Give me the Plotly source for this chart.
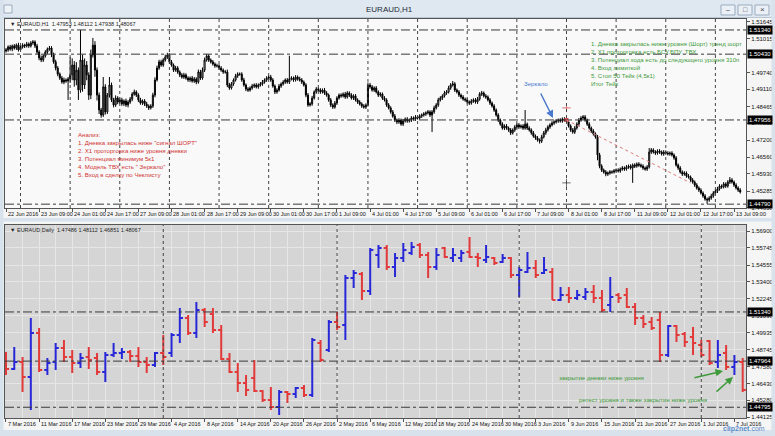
import pandas as pd
import plotly.graph_objects as go

W, H = 775, 436
FONT = "Liberation Sans, Arial, sans-serif"
NARROW = "Liberation Sans Narrow, Arial Narrow, Liberation Sans, sans-serif"

# ---------------- H1 chart data (prices as pips above 1.4400) ----------------
H1_BASE = 1.44
h1_first_open = 655
h1_close = [
    659,670,662,674,666,677,659,670,677,674,681,674,685,689,674,651,629,621,636,651,
    662,666,640,614,591,568,553,538,546,542,550,565,602,546,583,508,621,527,602,565,
    489,640,677,583,489,433,414,520,426,489,527,471,452,478,463,471,456,467,452,463,
    474,493,501,489,471,459,467,456,448,441,448,489,546,591,614,602,621,632,640,614,
    602,583,591,576,565,557,565,553,546,553,542,550,538,576,553,583,621,636,621,614,
    606,599,599,591,583,576,576,527,516,531,546,561,568,568,546,527,512,508,516,523,
    527,520,527,531,538,546,553,557,546,523,501,508,523,531,538,546,538,550,553,546,
    557,550,546,538,527,489,452,456,478,501,512,508,501,508,497,489,471,452,444,459,
    478,489,486,493,482,497,489,478,486,471,463,456,448,444,452,527,520,508,516,501,
    489,493,478,471,452,441,426,410,395,388,395,380,392,399,392,395,403,399,407,403,
    410,414,418,422,426,414,426,441,452,471,478,486,497,501,516,527,531,508,501,489,
    482,474,471,463,459,467,471,463,474,493,497,486,482,471,459,448,433,414,395,380,
    365,373,365,358,347,358,369,377,369,373,365,380,365,358,347,335,328,320,316,332,
    347,358,369,377,384,388,392,395,392,399,395,388,373,358,350,365,380,395,403,407,
    395,380,365,354,343,332,264,222,207,200,192,196,200,200,204,207,204,211,215,211,
    219,222,215,226,222,230,226,222,215,211,219,275,283,275,271,279,275,268,275,271,
    268,271,264,253,226,215,200,192,196,185,181,170,162,151,140,132,121,110,98,95,
    102,110,121,128,136,147,144,155,147,162,170,162,151,140,132,125,
]
h1_upper_wick = [
    7,6,8,5,7,6,9,6,7,5,8,6,7,7,6,8,7,9,6,7,
    6,8,7,9,8,7,6,8,9,6,7,67,25,15,30,10,113,20,25,15,
    10,20,27,15,10,10,8,37,10,8,30,9,8,10,7,9,8,6,9,7,
    8,7,9,6,7,8,6,7,8,6,7,9,10,9,8,8,7,9,8,6,
    7,6,8,7,6,7,8,6,7,6,8,7,6,9,8,10,9,8,7,6,
    7,6,8,6,7,6,7,9,8,7,6,8,7,6,7,8,6,7,6,8,
    6,7,6,7,8,6,7,6,8,7,6,7,8,6,7,6,7,87,7,6,
    7,6,8,7,6,7,8,7,8,6,7,6,7,6,8,7,6,7,6,8,
    7,6,7,6,8,7,6,7,6,7,6,7,6,7,6,9,8,7,6,7,
    6,7,6,7,6,7,6,7,8,6,7,6,7,6,7,6,7,6,7,6,
    7,6,7,6,7,6,7,8,7,8,7,6,8,7,8,7,11,7,6,7,
    6,7,6,7,6,7,6,7,8,7,8,6,7,6,7,6,7,6,7,6,
    7,6,7,6,7,6,7,6,7,6,7,53,6,7,6,7,6,7,6,8,
    7,8,7,6,7,6,7,6,7,6,7,6,7,6,7,8,7,8,7,7,
    7,6,7,6,7,6,7,8,7,6,7,6,7,6,7,6,7,6,7,6,
    7,6,7,6,7,6,7,6,7,6,7,15,7,6,7,6,7,6,7,6,
    7,6,7,6,7,6,7,6,7,6,7,6,7,6,7,6,7,6,7,6,
    7,8,7,6,8,7,6,7,6,7,11,7,6,7,6,7,
]
h1_lower_wick = [
    6,7,6,8,6,7,6,7,6,8,6,7,6,7,8,7,9,8,7,6,
    7,6,8,7,9,8,7,6,8,7,71,15,20,25,20,37,10,25,15,20,
    18,15,10,25,20,15,10,7,10,8,9,8,9,7,8,6,7,8,7,9,
    7,8,6,7,8,6,7,8,7,8,6,7,8,6,7,6,7,6,7,8,
    6,7,6,7,8,6,7,6,7,8,6,7,8,6,7,6,7,6,7,6,
    6,7,6,7,6,7,6,8,7,6,7,6,7,6,7,6,8,7,6,7,
    7,6,7,6,7,6,7,6,7,6,8,7,6,7,6,7,6,7,6,7,
    6,7,6,7,6,8,7,6,7,6,7,6,7,6,7,6,7,8,7,6,
    7,6,7,6,7,6,7,6,7,6,7,6,7,6,7,6,7,6,7,6,
    7,6,7,6,7,6,7,6,7,8,7,6,7,6,7,6,7,6,7,6,
    6,7,6,7,6,7,64,7,6,7,6,7,6,7,6,7,6,7,6,7,
    7,6,7,6,7,6,7,6,7,6,7,6,7,6,7,6,7,6,7,6,
    6,7,6,7,8,6,7,6,7,6,7,6,7,6,7,6,7,6,9,7,
    6,7,6,7,6,7,6,7,6,7,6,7,6,7,6,7,6,7,6,7,
    6,7,6,7,6,7,20,8,7,6,8,7,6,7,6,7,6,7,6,7,
    6,7,6,56,7,6,7,6,7,6,7,6,7,6,7,6,7,6,7,6,
    6,7,6,7,6,7,6,7,6,7,6,7,6,7,6,7,6,7,6,15,
    7,6,7,6,7,6,7,6,7,6,7,6,7,6,7,6,
]
h1_start = "2016-06-22 17:00"
h1_tick_labels = [
    "22 Jun 2016", "23 Jun 09:00", "24 Jun 01:00", "24 Jun 17:00", "27 Jun 09:00",
    "28 Jun 01:00", "28 Jun 17:00", "29 Jun 09:00", "30 Jun 01:00", "30 Jun 17:00",
    "1 Jul 09:00", "4 Jul 01:00", "4 Jul 17:00", "5 Jul 09:00", "6 Jul 01:00",
    "6 Jul 17:00", "7 Jul 09:00", "8 Jul 01:00", "8 Jul 17:00", "11 Jul 09:00",
    "12 Jul 01:00", "12 Jul 17:00", "13 Jul 09:00",
]
h1_label_step = 16
h1_price_ticks = [1.51645, 1.51015, 1.49740, 1.49110, 1.48465, 1.47835,
                  1.47200, 1.46560, 1.45930, 1.45285, 1.44650]
h1_levels = [1.51340, 1.50430, 1.47956, 1.44790]
h1_trend_x = [271, 331]
h1_trend_y = [1.47955, 1.45590]
h1_mark_x = [271, 271]
h1_mark_y = [1.48410, 1.45590]
h1_header = "\u25BC EURAUD,H1  1.47953 1.48112 1.47938 1.48067"

# ---------------- Daily chart data ----------------
d_start = "2016-03-07"
d_open = [
    1.4852,1.4742,1.4790,1.4687,1.4989,1.4735,1.4790,1.4886,1.4825,1.4783,
    1.4825,1.4818,1.4722,1.4838,1.4852,1.4859,1.4831,1.4790,1.4770,1.4852,
    1.4852,1.4976,1.5092,1.4989,1.5147,1.5120,1.5010,1.4811,1.4722,1.4646,
    1.4680,1.4591,1.4529,1.4481,1.4584,1.4571,1.4612,1.4564,1.4921,1.4873,
    1.5065,1.5044,1.5367,1.5395,1.5278,1.5525,1.5573,1.5443,1.5505,1.5539,
    1.5594,1.5525,1.5443,1.5573,1.5505,1.5505,1.5546,1.5511,1.5491,1.5505,
    1.5477,1.5505,1.5388,1.5408,1.5436,1.5402,1.5408,1.5216,1.5250,1.5230,
    1.5237,1.5271,1.5230,1.5182,1.5250,1.5250,1.5168,1.5092,1.5065,1.5079,
    1.4838,1.5037,1.4983,1.4962,1.4907,1.4934,1.4790,1.4852,1.4756,1.4790,
]
d_high = [
    1.4859,1.4893,1.4825,1.5092,1.5024,1.4818,1.4921,1.4941,1.4873,1.4852,
    1.4893,1.4852,1.4859,1.4921,1.4886,1.4873,1.4893,1.4825,1.4859,1.4976,
    1.4989,1.5161,1.5113,1.5202,1.5161,1.5161,1.5044,1.4852,1.4783,1.4701,
    1.4804,1.4598,1.4619,1.4598,1.4591,1.4619,1.4633,1.4955,1.4941,1.5079,
    1.5134,1.5388,1.5422,1.5408,1.5573,1.5594,1.5594,1.5539,1.5608,1.5614,
    1.5608,1.5546,1.5573,1.5580,1.5573,1.5560,1.5649,1.5539,1.5594,1.5511,
    1.5532,1.5511,1.5443,1.5546,1.5491,1.5511,1.5436,1.5305,1.5305,1.5285,
    1.5299,1.5319,1.5285,1.5374,1.5264,1.5299,1.5195,1.5113,1.5099,1.5134,
    1.5044,1.5044,1.4996,1.5031,1.4941,1.4941,1.4941,1.4907,1.4838,1.4818,
]
d_low = [
    1.4701,1.4735,1.4584,1.4461,1.4722,1.4701,1.4735,1.4790,1.4715,1.4749,
    1.4742,1.4701,1.4653,1.4825,1.4811,1.4790,1.4756,1.4715,1.4756,1.4770,
    1.4825,1.4921,1.4976,1.4955,1.5031,1.4989,1.4804,1.4715,1.4584,1.4557,
    1.4584,1.4516,1.4461,1.4426,1.4509,1.4543,1.4550,1.4550,1.4790,1.4859,
    1.5010,1.4941,1.5299,1.5216,1.5250,1.5436,1.5422,1.5374,1.5477,1.5525,
    1.5505,1.5367,1.5422,1.5505,1.5477,1.5477,1.5505,1.5443,1.5470,1.5456,
    1.5470,1.5367,1.5237,1.5402,1.5367,1.5395,1.5216,1.5209,1.5195,1.5216,
    1.5216,1.5195,1.5134,1.5134,1.5195,1.5161,1.5044,1.5024,1.5010,1.4790,
    1.4825,1.4928,1.4893,1.4838,1.4825,1.4770,1.4749,1.4735,1.4701,1.4584,
]
d_close = [
    1.4742,1.4790,1.4687,1.4989,1.4735,1.4783,1.4886,1.4825,1.4783,1.4818,
    1.4804,1.4722,1.4838,1.4852,1.4859,1.4831,1.4790,1.4770,1.4852,1.4825,
    1.4976,1.5092,1.4989,1.5147,1.5065,1.5010,1.4811,1.4722,1.4646,1.4598,
    1.4591,1.4529,1.4481,1.4584,1.4571,1.4612,1.4564,1.4941,1.4804,1.5065,
    1.5031,1.5367,1.5402,1.5278,1.5560,1.5573,1.5443,1.5505,1.5560,1.5580,
    1.5525,1.5443,1.5525,1.5511,1.5525,1.5539,1.5511,1.5505,1.5511,1.5470,
    1.5505,1.5388,1.5422,1.5436,1.5388,1.5422,1.5216,1.5250,1.5230,1.5250,
    1.5271,1.5230,1.5147,1.5237,1.5230,1.5168,1.5092,1.5051,1.5024,1.4838,
    1.5037,1.4976,1.4928,1.4921,1.4838,1.4783,1.4838,1.4756,1.4790,1.4598,
]
d_tick_labels = [
    "7 Mar 2016", "11 Mar 2016", "17 Mar 2016", "23 Mar 2016", "29 Mar 2016",
    "4 Apr 2016", "8 Apr 2016", "14 Apr 2016", "20 Apr 2016", "26 Apr 2016",
    "2 May 2016", "6 May 2016", "12 May 2016", "18 May 2016", "24 May 2016",
    "30 May 2016", "3 Jun 2016", "9 Jun 2016", "15 Jun 2016", "21 Jun 2016",
    "27 Jun 2016", "1 Jul 2016", "7 Jul 2016",
]
d_label_step = 4
d_price_ticks = [1.56900, 1.55745, 1.54555, 1.53400, 1.52245, 1.51090, 1.49935,
                 1.48745, 1.47580, 1.46430, 1.45280, 1.44125]
d_levels = [1.51340, 1.47964, 1.44795]
d_header = "\u25BC EURAUD,Daily  1.47486 1.48112 1.46851 1.48067"

# ---------------- texts ----------------
red_lines = [
    "Анализ:",
    "1. Дневка закрылась ниже \"сигнал ШОРТ\"",
    "2. Х1 проторговка ниже уровня дневки",
    "3. Потенциал минимум 5к1",
    "4. Модель ТВХ есть \" Зеркало\"",
    "5. Вход в сделку по Чеклисту",
]
green_lines = [
    "1. Дневка закрылась ниже уровня (Шорт) тренд шорт",
    "2. Х1 проторговка есть БСУ,БПУ, ТВХ",
    "3. Потенциал хода есть до следующего уровня 310п",
    "4. Вход лимиткой",
    "5. Стоп 50 Тейк (4,5к1)",
    "Итог Тейк",
]

# ---------------- build ----------------
n1 = min(len(h1_close), len(h1_upper_wick), len(h1_lower_wick))
h1_open_p = [h1_first_open] + h1_close[:n1 - 1]
o1 = [H1_BASE + v / 1e4 for v in h1_open_p]
c1 = [H1_BASE + v / 1e4 for v in h1_close[:n1]]
hi1 = [H1_BASE + (max(a, b) + u) / 1e4 for a, b, u in zip(h1_open_p, h1_close, h1_upper_wick)]
lo1 = [H1_BASE + (min(a, b) - d) / 1e4 for a, b, d in zip(h1_open_p, h1_close, h1_lower_wick)]
x1 = list(range(n1))

ts = pd.date_range(h1_start, periods=24 * 40, freq="h")
ts = ts[ts.dayofweek < 5][:n1]
h1_seps = [i for i, t in enumerate(ts) if t.hour == 0]

n2 = len(d_close)
x2 = list(range(n2))
dd = pd.bdate_range(d_start, periods=n2)
d_seps = [i for i in range(1, n2) if dd[i].month != dd[i - 1].month]


def px(x):
    return x / W


def py(y):
    return 1 - y / H


XD = [px(5), px(746)]
Y1D = [py(208), py(19)]
Y2D = [py(418), py(225)]

fig = go.Figure()
fig.add_trace(go.Candlestick(
    x=x1, open=o1, high=hi1, low=lo1, close=c1, xaxis="x", yaxis="y",
    increasing=dict(line=dict(color="#000000", width=1), fillcolor="#ffffff"),
    decreasing=dict(line=dict(color="#000000", width=1), fillcolor="#000000"),
    whiskerwidth=0, showlegend=False, hoverinfo="skip"))
fig.add_trace(go.Scatter(
    x=h1_mark_x, y=h1_mark_y, mode="markers", xaxis="x", yaxis="y",
    marker=dict(symbol="cross-thin", size=6, line=dict(color=["#e07070", "#707070"], width=1)),
    showlegend=False, hoverinfo="skip"))
fig.add_trace(go.Scatter(
    x=h1_trend_x[:1], y=h1_trend_y[:1], mode="markers", xaxis="x", yaxis="y",
    marker=dict(symbol="square", size=4, color="#e05050"),
    showlegend=False, hoverinfo="skip"))
fig.add_trace(go.Ohlc(
    x=x2, open=d_open, high=d_high, low=d_low, close=d_close, xaxis="x2", yaxis="y2",
    increasing=dict(line=dict(color="#2828d8", width=2)),
    decreasing=dict(line=dict(color="#e23a3a", width=2)),
    tickwidth=0.38, showlegend=False, hoverinfo="skip"))

tickfont = dict(family=FONT, size=6, color="#111")
frame = dict(showline=True, mirror=True, linecolor="#555", linewidth=1, zeroline=False, automargin=False)

fig.update_layout(
    width=W, height=H, autosize=False,
    margin=dict(l=0, r=0, t=0, b=0),
    paper_bgcolor="#f5f5f5", plot_bgcolor="#f9f9f9",
    showlegend=False, hovermode=False,
    xaxis=dict(domain=XD, anchor="y", range=[-0.5, 357.8], showgrid=False,
               tickvals=[k * h1_label_step for k in range(len(h1_tick_labels))],
               ticks="outside", ticklen=3, tickcolor="#555", showticklabels=False,
               rangeslider=dict(visible=False), **frame),
    yaxis=dict(domain=Y1D, anchor="x", range=[1.44646, 1.51752], side="right",
               tickvals=h1_price_ticks, ticktext=[f"{v:.5f}" for v in h1_price_ticks],
               ticks="outside", ticklen=3, tickcolor="#555", tickfont=tickfont,
               showgrid=False, **frame),
    xaxis2=dict(domain=XD, anchor="y2", range=[-0.12, 89.4],
                tickvals=[k * d_label_step for k in range(len(d_tick_labels))],
                ticks="outside", ticklen=3, tickcolor="#555", showticklabels=False,
                showgrid=True, gridcolor="#e6e6e6", gridwidth=1,
                minor=dict(tickmode="linear", tick0=0, dtick=2, showgrid=True,
                           gridcolor="#e6e6e6", ticks=""),
                rangeslider=dict(visible=False), **frame),
    yaxis2=dict(domain=Y2D, anchor="x2", range=[1.44057, 1.57312], side="right",
                tickvals=d_price_ticks, ticktext=[f"{v:.5f}" for v in d_price_ticks],
                ticks="outside", ticklen=3, tickcolor="#555", tickfont=tickfont,
                showgrid=True, gridcolor="#e6e6e6", **frame),
)

shapes = []
shapes.append(dict(type="rect", xref="x2 domain", yref="y2 domain", x0=0, x1=1, y0=0, y1=1,
                   fillcolor="#d5d5d5", line=dict(width=0), layer="below"))
chrome = "#d8e2ec"
shapes.append(dict(type="rect", xref="paper", yref="paper", x0=0, x1=1, y0=py(17), y1=1,
                   fillcolor="#dfe7f0", line=dict(width=0)))
shapes.append(dict(type="line", xref="paper", yref="paper", x0=0, x1=1, y0=py(17.5), y1=py(17.5),
                   line=dict(color="#b8c6d4", width=1)))
for (a, b) in [(0, 3.5), (771.5, 775)]:
    shapes.append(dict(type="rect", xref="paper", yref="paper", x0=px(a), x1=px(b), y0=0, y1=1,
                       fillcolor=chrome, line=dict(width=0)))
shapes.append(dict(type="rect", xref="paper", yref="paper", x0=0, x1=1, y0=py(221.5), y1=py(218),
                   fillcolor=chrome, line=dict(width=0)))
shapes.append(dict(type="rect", xref="paper", yref="paper", x0=0, x1=1, y0=0, y1=py(430),
                   fillcolor=chrome, line=dict(width=0)))
for (a, b) in [(721, 735), (738, 752), (755, 769)]:
    shapes.append(dict(type="rect", xref="paper", yref="paper", x0=px(a), x1=px(b), y0=py(15), y1=py(5),
                       fillcolor="#eaf0f6", line=dict(color="#9aabbd", width=1)))
shapes.append(dict(type="rect", xref="paper", yref="paper", x0=px(4), x1=px(12), y0=py(13), y1=py(5),
                   fillcolor="#eef3f8", line=dict(color="#9aabbd", width=1)))
for lv in h1_levels:
    shapes.append(dict(type="line", xref="x domain", yref="y", x0=0, x1=1, y0=lv, y1=lv,
                       line=dict(color="#3a3a3a", width=1, dash="dashdot")))
for lv in d_levels:
    shapes.append(dict(type="line", xref="x2 domain", yref="y2", x0=0, x1=1, y0=lv, y1=lv,
                       line=dict(color="#3a3a3a", width=1, dash="dashdot")))
for s in h1_seps:
    shapes.append(dict(type="line", xref="x", yref="y domain", x0=s, x1=s, y0=0, y1=1,
                       line=dict(color="#444", width=1, dash="dot")))
for s in d_seps:
    shapes.append(dict(type="line", xref="x2", yref="y2 domain", x0=s, x1=s, y0=0, y1=1,
                       line=dict(color="#444", width=1, dash="dot")))
shapes.append(dict(type="line", xref="x", yref="y", x0=h1_trend_x[0], x1=h1_trend_x[1],
                   y0=h1_trend_y[0], y1=h1_trend_y[1],
                   line=dict(color="#e07a7a", width=1, dash="dot")))
fig.update_layout(shapes=shapes)

ann = []


def note(text, x, y, size=6.5, color="#000", xanchor="left", yanchor="middle", family=FONT, **kw):
    ann.append(dict(text=text, x=px(x), y=py(y), xref="paper", yref="paper", showarrow=False,
                    xanchor=xanchor, yanchor=yanchor, align="left",
                    font=dict(family=family, size=size, color=color), **kw))


note("EURAUD,H1", 390, 9, size=8, color="#1e2a38", xanchor="center")
note("\u2013", 728, 9.5, size=7, color="#445", xanchor="center")
note("\u25A1", 745, 10, size=7, color="#445", xanchor="center")
note("\u00D7", 762, 10, size=8, color="#445", xanchor="center")
note(h1_header, 8, 24.5, size=5.5, color="#222")
note(d_header, 8, 230, size=5.5, color="#222")
note("<br>".join(red_lines), 76, 129, size=6.1, color="#d03434", yanchor="top")
note("<br>".join(green_lines), 589, 38, size=6.1, color="#3e9a3a", yanchor="top")
note("Зеркало", 522, 84, size=6.1, color="#4a7ad0")
note("закрытие дневки ниже уровня", 557, 377, size=6.1, color="#3e9a3a")
note("ретест уровня и также закрытие ниже уровня", 577, 399, size=6.1, color="#3e9a3a")
note("<b>clip2net</b>.com", 744, 429, size=7, color="#5a8ac8", xanchor="center")

for k, lab in enumerate(h1_tick_labels):
    ann.append(dict(text=lab, x=k * h1_label_step, xref="x", y=py(213.5), yref="paper",
                    xanchor="left", yanchor="middle", showarrow=False,
                    font=dict(family=NARROW, size=5.5, color="#111")))
for k, lab in enumerate(d_tick_labels):
    ann.append(dict(text=lab, x=k * d_label_step, xref="x2", y=py(423.5), yref="paper",
                    xanchor="left", yanchor="middle", showarrow=False,
                    font=dict(family=NARROW, size=5.5, color="#111")))
for lv in h1_levels:
    ann.append(dict(text=f"{lv:.5f}", x=px(747), xref="paper", y=lv, yref="y",
                    xanchor="left", yanchor="middle", showarrow=False, bgcolor="#000",
                    borderpad=1, font=dict(family=FONT, size=6, color="#fff")))
for lv in d_levels:
    ann.append(dict(text=f"{lv:.5f}", x=px(747), xref="paper", y=lv, yref="y2",
                    xanchor="left", yanchor="middle", showarrow=False, bgcolor="#000",
                    borderpad=1, font=dict(family=FONT, size=6, color="#fff")))

for (hx, hy, ax, ay, col) in [(553, 118, -13, -26, "#4a7ad0"),
                              (723, 371, -30, 7, "#3e9a3a"),
                              (733, 377, -18, 16, "#3e9a3a")]:
    ann.append(dict(text="", x=px(hx), y=py(hy), xref="paper", yref="paper", showarrow=True,
                    ax=ax, ay=ay, arrowhead=2, arrowsize=1, arrowwidth=1.5, arrowcolor=col))

fig.update_layout(annotations=ann)

fig.write_html("out.html", config={"displayModeBar": False},
               post_script="document.body.style.margin='0';document.body.style.overflow='hidden';")
